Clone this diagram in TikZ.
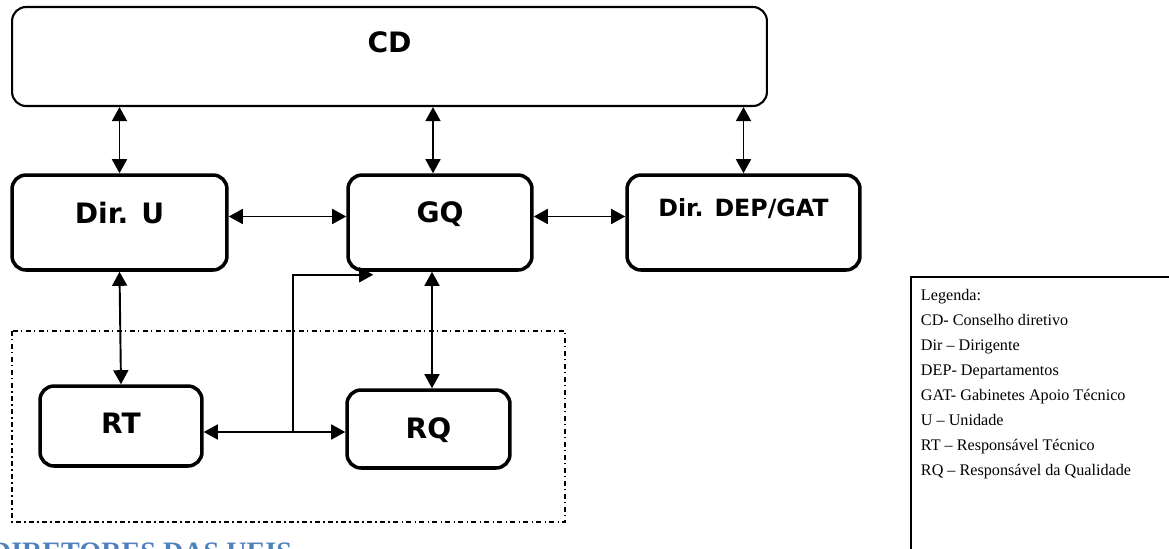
\documentclass[tikz,border=0pt]{standalone}
\usepackage{fontspec}
\setmainfont{Liberation Serif}
\newfontfamily\boxfont{DejaVu Sans}
\usetikzlibrary{arrows.meta,calc}
\definecolor{headblue}{RGB}{79,129,189}

\begin{document}
\begin{tikzpicture}[x=0.02cm,y=-0.02cm,>={Triangle[length=8pt,width=8.5pt]},
                    line width=1.1pt]
  \tikzstyle{box}=[rectangle,rounded corners=0.28cm,draw=black,line width=2pt,fill=white,
                   inner sep=0pt,font=\boxfont\bfseries\fontsize{16}{19}\selectfont]
  \tikzstyle{link}=[<->,line width=1.1pt]
  \tikzstyle{group}=[line width=0.85pt,dash pattern=on 2.8pt off 2pt on 0.6pt off 2pt]

  \useasboundingbox (0,0) rectangle (1169,548);
  \clip (0,0) rectangle (1169,548);

  \node[box,minimum width=15.1cm,minimum height=1.98cm,line width=1.2pt,text depth=0.58cm] (cd) at (389.5,56.5) {CD};
  \node[box,minimum width=4.3cm,minimum height=1.9cm,text depth=0.4cm]  (dirU) at (119.5,222.5) {Dir. U};
  \node[box,minimum width=3.68cm,minimum height=1.9cm,text depth=0.4cm] (gq)   at (440,222.5)   {GQ};
  \node[box,minimum width=4.66cm,minimum height=1.9cm,text depth=0.6cm,
        font=\boxfont\bfseries\fontsize{13.5}{16}\selectfont]         (dep)  at (743.5,222.5) {Dir. DEP/GAT};
  \node[box,minimum width=3.24cm,minimum height=1.6cm,text depth=0.1cm]   (rt) at (121,426)   {RT};
  \node[box,minimum width=3.26cm,minimum height=1.56cm,text depth=0.05cm] (rq) at (428.5,429) {RQ};

  % grupo da unidade
  \draw[group] (12,331) rectangle (565,522);

  \path[link]
    (dirU.north) edge (dirU.north |- cd.south)
    ($(gq.north)+(-7,0)$) edge ($(cd.south)+(43.5,0)$)
    (dep.north) edge (dep.north |- cd.south)
    ($(dirU.east)+(0,-6)$) edge ($(gq.west)+(0,-6)$)
    ($(gq.east)+(0,-6)$) edge ($(dep.west)+(0,-6)$)
    (dirU.south) edge (rt.north)
    ($(gq.south)+(-8,0)$) edge ($(rq.north)+(3.5,0)$)
    ($(rt.east)+(0,6)$) edge ($(rq.west)+(0,3)$);

  \coordinate (jn)   at ($(rt.east)+(89,6)$);
  \coordinate (gqin) at ($(gq.south west)+(27,3)$);
  \draw[->] (jn) |- (gqin);

  % legenda
  \draw[line width=1.6pt] (911,277) rectangle (1200,580);
  \node[anchor=north west,align=left,inner sep=0pt,
        font=\fontsize{9.2}{14.2}\selectfont] (legenda) at (920,288.5)
    {Legenda:\\CD- Conselho diretivo\\Dir – Dirigente\\DEP- Departamentos\\
     GAT- Gabinetes Apoio Técnico\\U – Unidade\\RT – Responsável Técnico\\
     RQ – Responsável da Qualidade};

  \node[anchor=base west,inner sep=0pt,text=headblue,
        font=\bfseries\fontsize{16}{19}\selectfont] (titulo) at (-10,561) {DIRETORES DAS UEIS};
\end{tikzpicture}
\end{document}
